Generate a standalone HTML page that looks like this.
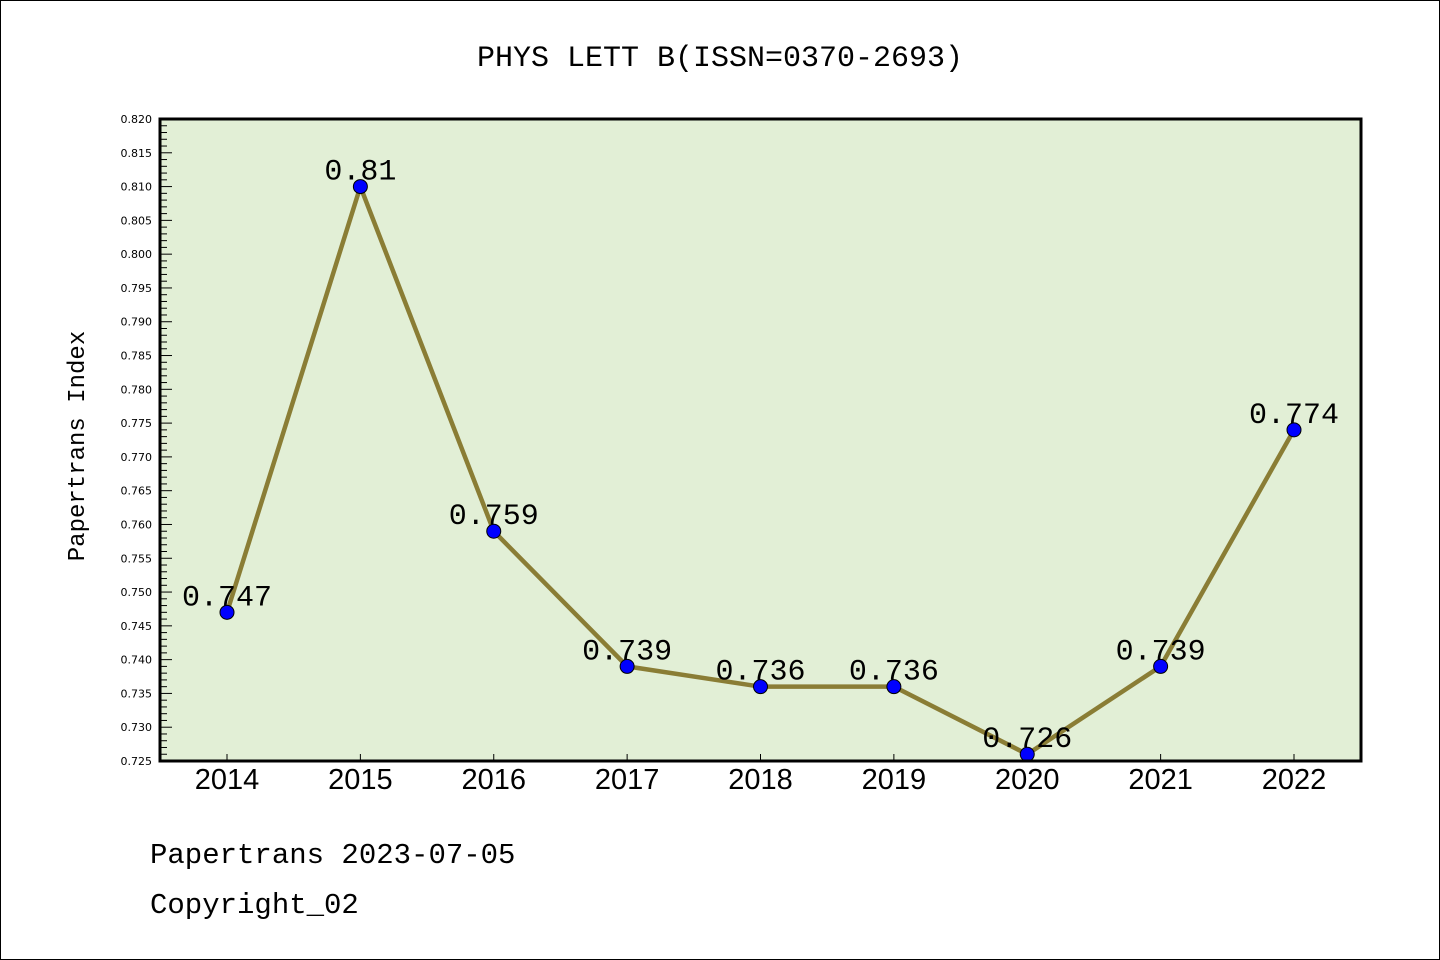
<!DOCTYPE html>
<html><head><meta charset="utf-8"><style>
body{margin:0;background:#fff}
svg{display:block}
</style></head><body>
<svg width="1440" height="960" xmlns="http://www.w3.org/2000/svg">
<rect x="0.5" y="0.5" width="1439" height="959" fill="#fff" stroke="#000"/>
<text x="720" y="66" text-anchor="middle" font-family="'Liberation Mono','Noto Sans CJK SC',monospace" font-size="30">PHYS LETT B(ISSN=0370-2693)</text>
<rect x="160" y="119" width="1201" height="642" fill="#e2efd6"/>
<g id="axes"></g>
<g id="series"></g>
<rect x="160" y="119" width="1201" height="642" fill="none" stroke="#000" stroke-width="3"/>
<text transform="translate(84,446) rotate(-90)" text-anchor="middle" font-family="'Liberation Mono',monospace" font-size="24">Papertrans Index</text>
<text x="150" y="863" font-family="'Liberation Mono',monospace" font-size="29">Papertrans 2023-07-05</text>
<text x="150" y="913" font-family="'Liberation Mono',monospace" font-size="29">Copyright_02</text>
</svg>
<script>
const categories=["2014","2015","2016","2017","2018","2019","2020","2021","2022"];
const values=[0.747,0.81,0.759,0.739,0.736,0.736,0.726,0.739,0.774];
const labels=["0.747","0.81","0.759","0.739","0.736","0.736","0.726","0.739","0.774"];
const yMin=0.725,yMax=0.820;
const NS="http://www.w3.org/2000/svg";
const X0=160,X1=1361,Y0=761,Y1=119;
function sx(i){return 227+i*(1294-227)/(categories.length-1);}
function sy(v){return Y0-(v-yMin)/(yMax-yMin)*(Y0-Y1);}
function mk(t,a,p){const e=document.createElementNS(NS,t);for(const k in a)e.setAttribute(k,a[k]);p.appendChild(e);return e;}
const axes=document.getElementById('axes'),ser=document.getElementById('series');
const nMinor=Math.round((yMax-yMin)/0.001);
for(let k=0;k<=nMinor;k++){
  const v=yMin+k*0.001,y=sy(v),major=k%5===0;
  const t=mk('line',{x1:X0,x2:X0+(major?12:7),y1:y,y2:y,stroke:'#000','stroke-width':1},axes);
  
  
  if(major){
    const l=mk('text',{x:152,y:y+4,'text-anchor':'end','font-family':'DejaVu Sans,sans-serif','font-size':11},axes);
    
    
    l.textContent=v.toFixed(3);
  }
}
categories.forEach((c,i)=>{
  const x=sx(i);
  const t=mk('line',{x1:x,x2:x,y1:Y0,y2:Y0-7,stroke:'#000'},axes);
  
  
  const l=mk('text',{x:x,y:789,'text-anchor':'middle','font-family':'Liberation Sans,sans-serif','font-size':29},axes);
  
  
  l.textContent=c;
});
const pl=mk('polyline',{points:values.map((v,i)=>sx(i)+','+sy(v)).join(' '),fill:'none',stroke:'#8a7d35','stroke-width':4.5},ser);


values.forEach((v,i)=>{
  const c=mk('circle',{cx:sx(i),cy:sy(v),r:7,fill:'#0000ff',stroke:'#000','stroke-width':1},ser);
  
  
  const t=mk('text',{x:sx(i),y:sy(v)-7,'text-anchor':'middle','font-family':'Liberation Mono,monospace','font-size':30},ser);
  
  
  t.textContent=labels[i];
});
</script>
</body></html>
